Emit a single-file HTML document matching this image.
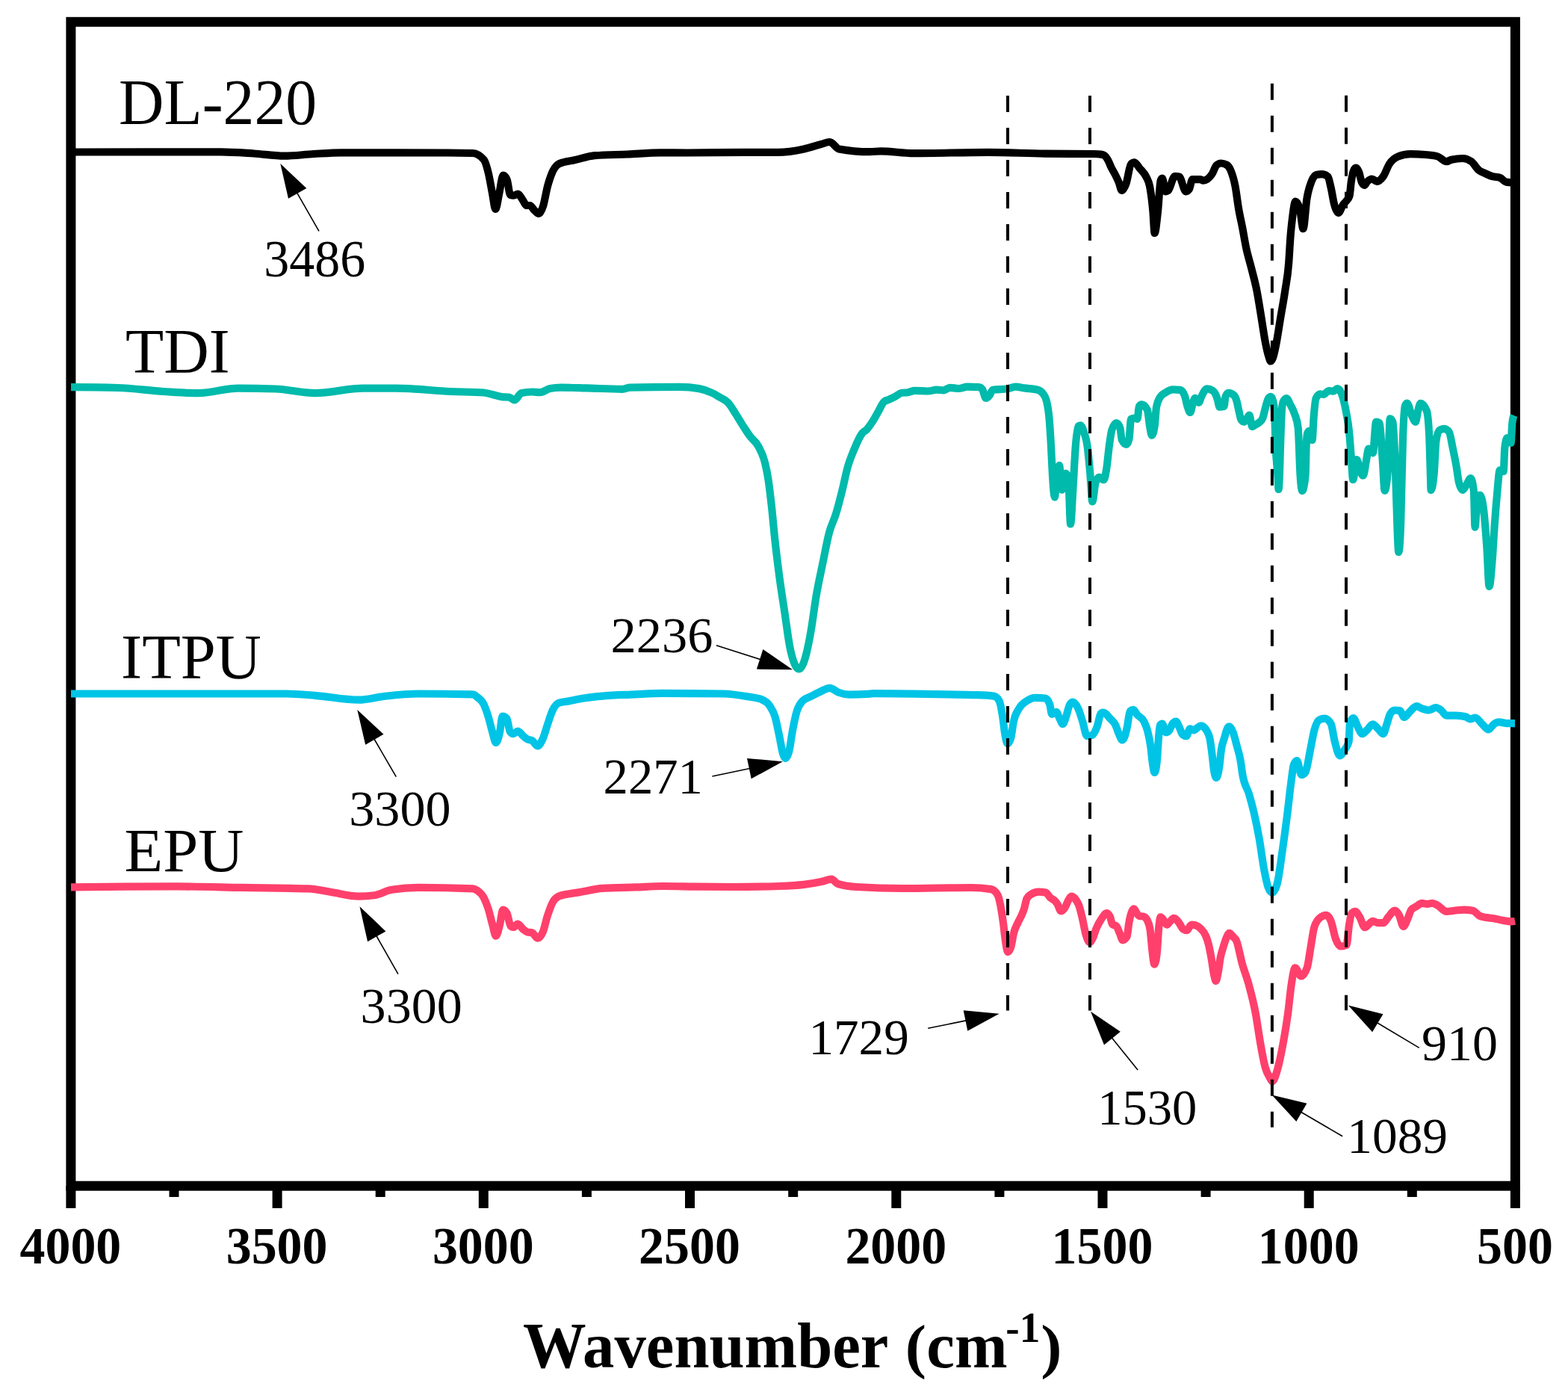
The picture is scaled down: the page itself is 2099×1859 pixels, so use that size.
<!DOCTYPE html><html><head><meta charset="utf-8"><title>FTIR spectra</title><style>html,body{margin:0;padding:0;background:#fff;overflow:hidden}svg{display:block}text{font-family:"Liberation Serif","Times New Roman",serif;fill:#000}</style></head><body>
<svg width="2099" height="1859" viewBox="0 0 2099 1859">
<rect width="2099" height="1859" fill="#fff"/>
<rect x="94.9" y="29.3" width="1933.5" height="1557.9" fill="none" stroke="#000" stroke-width="13"/>
<line x1="94.9" y1="1587.2" x2="94.9" y2="1617" stroke="#000" stroke-width="13"/>
<line x1="371.1" y1="1587.2" x2="371.1" y2="1617" stroke="#000" stroke-width="13"/>
<line x1="647.3" y1="1587.2" x2="647.3" y2="1617" stroke="#000" stroke-width="13"/>
<line x1="923.5" y1="1587.2" x2="923.5" y2="1617" stroke="#000" stroke-width="13"/>
<line x1="1199.8" y1="1587.2" x2="1199.8" y2="1617" stroke="#000" stroke-width="13"/>
<line x1="1476.0" y1="1587.2" x2="1476.0" y2="1617" stroke="#000" stroke-width="13"/>
<line x1="1752.2" y1="1587.2" x2="1752.2" y2="1617" stroke="#000" stroke-width="13"/>
<line x1="2028.4" y1="1587.2" x2="2028.4" y2="1617" stroke="#000" stroke-width="13"/>
<line x1="233.0" y1="1587.2" x2="233.0" y2="1602" stroke="#000" stroke-width="13"/>
<line x1="509.2" y1="1587.2" x2="509.2" y2="1602" stroke="#000" stroke-width="13"/>
<line x1="785.4" y1="1587.2" x2="785.4" y2="1602" stroke="#000" stroke-width="13"/>
<line x1="1061.7" y1="1587.2" x2="1061.7" y2="1602" stroke="#000" stroke-width="13"/>
<line x1="1337.9" y1="1587.2" x2="1337.9" y2="1602" stroke="#000" stroke-width="13"/>
<line x1="1614.1" y1="1587.2" x2="1614.1" y2="1602" stroke="#000" stroke-width="13"/>
<line x1="1890.3" y1="1587.2" x2="1890.3" y2="1602" stroke="#000" stroke-width="13"/>
<text transform="translate(94.4,1690.8) scale(1,1.03)" font-size="67.9" font-weight="bold" text-anchor="middle">4000</text>
<text transform="translate(370.6,1690.8) scale(1,1.03)" font-size="67.9" font-weight="bold" text-anchor="middle">3500</text>
<text transform="translate(646.8,1690.8) scale(1,1.03)" font-size="67.9" font-weight="bold" text-anchor="middle">3000</text>
<text transform="translate(923.0,1690.8) scale(1,1.03)" font-size="67.9" font-weight="bold" text-anchor="middle">2500</text>
<text transform="translate(1199.3,1690.8) scale(1,1.03)" font-size="67.9" font-weight="bold" text-anchor="middle">2000</text>
<text transform="translate(1475.5,1690.8) scale(1,1.03)" font-size="67.9" font-weight="bold" text-anchor="middle">1500</text>
<text transform="translate(1751.7,1690.8) scale(1,1.03)" font-size="67.9" font-weight="bold" text-anchor="middle">1000</text>
<text transform="translate(2027.9,1690.8) scale(1,1.03)" font-size="67.9" font-weight="bold" text-anchor="middle">500</text>
<text transform="translate(700.1,1830.3) scale(1,1.03)" font-size="84.7" font-weight="bold" text-anchor="start">Wavenumber</text>
<text transform="translate(1211.8,1829.3) scale(1,0.96)" font-size="84.7" font-weight="bold" text-anchor="start">(</text>
<text transform="translate(1240.3,1830.3) scale(1,1.03)" font-size="84.7" font-weight="bold" text-anchor="start">cm</text>
<text transform="translate(1346.2,1795.5) scale(1,1.02)" font-size="55.4" font-weight="bold" text-anchor="start">-1</text>
<text transform="translate(1393.2,1829.3) scale(1,0.96)" font-size="84.7" font-weight="bold" text-anchor="start">)</text>
<path d="M95.0,203.5 C97.3,203.5 99.7,203.5 102.0,203.5 C166.5,203.5 231.0,203.4 295.5,203.4 C310.3,203.4 325.2,204.6 340.0,205.5 C353.5,206.4 367.1,208.7 380.6,208.7 C393.7,208.7 406.9,206.7 420.0,206.0 C432.3,205.3 444.7,204.3 457.0,204.3 C504.7,204.3 552.3,204.4 600.0,204.5 C611.0,204.5 622.0,204.7 633.0,205.0 C638.0,205.2 642.9,208.0 647.9,214.0 C649.9,216.4 651.8,223.4 653.8,231.6 C655.5,238.7 657.2,249.4 658.9,258.0 C660.4,265.5 661.8,280.0 663.3,280.0 C665.0,280.0 666.7,265.5 668.4,258.0 C670.1,250.4 671.9,234.6 673.6,234.6 C675.3,234.6 677.0,236.6 678.7,240.5 C680.2,243.9 681.6,260.5 683.1,261.0 C684.6,261.5 686.0,261.7 687.5,261.7 C689.5,261.7 691.4,259.5 693.4,259.5 C695.4,259.5 697.3,264.3 699.3,266.9 C701.2,269.5 703.2,275.0 705.1,275.0 C706.6,275.0 708.0,275.0 709.5,275.0 C711.5,275.0 713.4,279.7 715.4,281.5 C717.4,283.3 719.3,286.0 721.3,286.0 C723.2,286.0 725.2,281.7 727.1,275.7 C729.1,269.6 731.0,256.7 733.0,249.3 C735.0,242.0 736.9,236.2 738.9,231.6 C741.3,225.9 743.8,222.6 746.2,220.6 C749.1,218.2 752.1,217.9 755.0,217.0 C758.9,215.8 762.9,215.6 766.8,214.8 C776.6,212.9 786.3,209.0 796.1,208.2 C810.7,207.1 825.4,207.1 840.0,206.5 C854.7,205.8 869.5,204.3 884.2,204.3 C896.1,204.3 908.1,204.5 920.0,204.5 C945.6,204.5 971.3,203.8 996.9,203.8 C1011.6,203.8 1026.2,203.8 1040.9,203.8 C1052.6,203.8 1064.4,201.9 1076.1,199.4 C1083.9,197.7 1091.8,195.0 1099.6,192.9 C1103.3,191.9 1107.1,190.0 1110.8,190.0 C1114.9,190.0 1119.0,198.6 1123.1,199.4 C1136.8,201.9 1150.5,203.2 1164.2,203.2 C1169.1,203.2 1174.0,202.3 1178.9,202.3 C1193.6,202.3 1208.2,205.2 1222.9,205.2 C1256.2,205.2 1289.4,203.8 1322.7,203.8 C1348.1,203.8 1373.6,205.3 1399.0,205.6 C1421.0,205.9 1443.0,205.7 1465.0,206.0 C1468.0,206.0 1471.0,206.2 1474.0,206.6 C1475.7,206.8 1477.3,207.2 1479.0,208.5 C1480.3,209.5 1481.7,211.7 1483.0,214.0 C1484.7,216.9 1486.3,221.7 1488.0,225.0 C1489.7,228.3 1491.3,230.7 1493.0,234.0 C1494.6,237.2 1496.2,240.4 1497.8,244.4 C1499.1,247.6 1500.3,254.9 1501.6,254.9 C1503.5,254.9 1505.5,251.2 1507.4,246.0 C1509.6,240.1 1511.8,221.8 1514.0,219.6 C1515.5,218.1 1516.9,217.4 1518.4,217.4 C1520.9,217.4 1523.3,222.5 1525.8,225.5 C1528.7,229.0 1531.7,230.7 1534.6,237.2 C1536.1,240.5 1537.5,241.4 1539.0,249.0 C1540.5,256.6 1541.9,265.9 1543.4,282.7 C1544.1,291.1 1544.9,312.0 1545.6,312.0 C1547.1,312.0 1548.5,296.0 1550.0,282.7 C1551.2,271.5 1552.5,244.9 1553.7,241.6 C1554.4,239.7 1555.2,238.7 1555.9,238.7 C1557.4,238.7 1558.8,256.3 1560.3,256.3 C1561.5,256.3 1562.7,255.8 1563.9,254.9 C1566.8,252.6 1569.8,235.8 1572.7,235.8 C1574.7,235.8 1576.6,236.0 1578.6,236.5 C1581.5,237.2 1584.5,256.3 1587.4,256.3 C1588.9,256.3 1590.3,255.3 1591.8,253.4 C1593.3,251.5 1594.7,240.2 1596.2,240.2 C1599.6,240.2 1603.1,240.2 1606.5,240.2 C1608.0,240.2 1609.4,241.6 1610.9,241.6 C1614.8,241.6 1618.7,238.7 1622.6,232.8 C1624.6,229.8 1626.5,222.8 1628.5,221.1 C1630.5,219.4 1632.4,218.5 1634.4,218.5 C1636.8,218.5 1639.3,219.1 1641.7,220.4 C1643.7,221.4 1645.6,223.6 1647.6,228.4 C1649.6,233.2 1651.5,238.7 1653.5,249.0 C1655.1,257.2 1656.6,270.9 1658.2,280.0 C1659.8,289.5 1661.5,295.8 1663.1,304.3 C1664.7,312.8 1666.4,323.1 1668.0,331.0 C1670.4,342.6 1672.8,349.3 1675.2,359.0 C1677.6,368.8 1680.1,376.9 1682.5,389.4 C1684.5,399.9 1686.6,413.4 1688.6,425.8 C1690.2,435.8 1691.9,447.6 1693.5,456.2 C1695.1,464.6 1696.7,471.9 1698.3,476.9 C1699.2,479.7 1700.1,483.5 1701.0,483.5 C1702.0,483.5 1703.0,481.6 1704.0,479.0 C1705.3,475.5 1706.7,468.8 1708.0,462.3 C1710.0,452.4 1712.1,437.9 1714.1,425.8 C1716.1,413.6 1718.2,403.2 1720.2,389.4 C1721.8,378.3 1723.5,373.5 1725.1,352.9 C1725.9,342.8 1726.7,326.5 1727.5,316.5 C1728.3,306.1 1729.2,298.8 1730.0,292.0 C1731.4,280.6 1732.8,269.5 1734.2,269.5 C1736.1,269.5 1738.1,272.9 1740.0,279.8 C1741.5,285.1 1743.0,306.2 1744.5,306.2 C1746.1,306.2 1747.8,276.3 1749.4,266.1 C1751.5,253.0 1753.6,248.0 1755.7,242.6 C1757.8,237.3 1759.8,234.4 1761.9,234.0 C1764.5,233.5 1767.1,233.2 1769.7,233.2 C1772.3,233.2 1775.0,234.3 1777.6,236.4 C1778.9,237.5 1780.2,245.0 1781.5,250.5 C1783.1,257.1 1784.6,268.3 1786.2,273.9 C1788.0,280.5 1789.9,284.9 1791.7,284.9 C1793.8,284.9 1795.8,276.8 1797.9,273.9 C1799.5,271.7 1801.0,270.7 1802.6,268.5 C1803.9,266.7 1805.2,266.4 1806.5,262.2 C1807.3,259.6 1808.1,247.9 1808.9,242.6 C1809.9,235.8 1811.0,231.1 1812.0,228.5 C1813.0,225.9 1814.1,224.6 1815.1,224.6 C1816.4,224.6 1817.8,226.8 1819.1,230.1 C1820.4,233.4 1821.7,241.6 1823.0,244.2 C1824.2,246.6 1825.4,247.8 1826.6,247.8 C1827.7,247.8 1828.9,244.6 1830.0,243.4 C1832.2,241.1 1834.4,239.5 1836.6,239.5 C1838.8,239.5 1841.0,242.8 1843.2,242.8 C1846.0,242.8 1848.8,240.1 1851.6,236.2 C1854.4,232.3 1857.1,223.7 1859.9,219.5 C1863.8,213.6 1867.6,211.0 1871.5,209.5 C1877.0,207.3 1882.6,206.2 1888.1,206.2 C1894.8,206.2 1901.4,206.5 1908.1,207.0 C1913.6,207.4 1919.2,207.8 1924.7,209.5 C1928.6,210.7 1932.5,216.2 1936.4,216.2 C1938.6,216.2 1940.8,214.2 1943.0,213.7 C1948.0,212.6 1953.0,212.0 1958.0,212.0 C1961.9,212.0 1965.7,213.4 1969.6,216.2 C1972.9,218.6 1976.3,225.1 1979.6,227.8 C1982.4,230.0 1985.1,230.7 1987.9,232.0 C1991.2,233.6 1994.6,235.2 1997.9,236.2 C2001.2,237.2 2004.6,236.7 2007.9,237.8 C2010.7,238.7 2013.4,243.2 2016.2,243.6 C2020.1,244.2 2024.1,244.3 2028.0,244.5" fill="none" stroke="#000000" stroke-width="10.2" stroke-linejoin="round" stroke-linecap="butt"/>
<path d="M95.0,518.2 C115.8,518.3 136.7,518.5 157.5,519.0 C178.1,519.5 198.6,522.8 219.2,524.0 C234.8,524.9 250.5,526.1 266.1,526.1 C283.7,526.1 301.4,519.6 319.0,519.6 C335.6,519.6 352.3,519.9 368.9,520.5 C386.5,521.1 404.1,526.1 421.7,526.1 C443.2,526.1 464.8,519.6 486.3,519.6 C501.0,519.6 515.6,519.6 530.3,519.6 C554.8,519.6 579.2,522.9 603.7,524.0 C618.4,524.6 633.0,524.5 647.7,525.5 C651.8,525.8 655.9,527.2 660.0,528.2 C663.9,529.1 667.8,530.6 671.7,531.1 C675.1,531.6 678.6,531.3 682.0,531.8 C684.2,532.1 686.4,535.5 688.6,535.5 C691.8,535.5 695.0,526.7 698.2,526.0 C703.1,525.0 707.9,524.5 712.8,524.5 C716.2,524.5 719.7,525.2 723.1,525.2 C727.5,525.2 731.9,521.0 736.3,520.1 C741.2,519.1 746.1,518.6 751.0,518.6 C762.3,518.6 773.5,519.1 784.8,519.4 C800.9,519.8 817.1,520.8 833.2,520.8 C836.6,520.8 840.1,518.7 843.5,518.6 C865.5,518.1 887.5,517.9 909.5,517.9 C918.3,517.9 927.1,518.6 935.9,520.1 C941.8,521.1 947.7,523.1 953.6,526.0 C956.4,527.4 959.3,529.2 962.1,530.9 C966.5,533.6 971.0,534.6 975.4,539.8 C978.3,543.2 981.3,548.5 984.2,553.0 C987.9,558.7 991.5,565.0 995.2,570.7 C998.2,575.3 1001.1,580.0 1004.1,584.0 C1007.8,589.0 1011.4,590.2 1015.1,597.2 C1018.1,602.9 1021.0,606.9 1024.0,619.3 C1025.5,625.4 1026.9,631.8 1028.4,641.4 C1029.9,651.0 1031.3,663.5 1032.8,676.8 C1034.3,690.1 1035.7,707.3 1037.2,721.0 C1039.4,741.8 1041.7,759.5 1043.9,776.2 C1046.1,792.6 1048.3,805.7 1050.5,820.4 C1052.7,835.1 1054.9,853.2 1057.1,864.6 C1059.3,876.2 1061.6,883.8 1063.8,888.9 C1065.7,893.3 1067.6,895.5 1069.5,895.5 C1071.0,895.5 1072.5,893.9 1074.0,891.0 C1075.7,887.7 1077.5,882.3 1079.2,875.7 C1081.4,867.2 1083.7,855.5 1085.9,842.5 C1088.1,829.7 1090.3,811.5 1092.5,798.3 C1095.4,780.8 1098.4,768.4 1101.3,754.1 C1104.3,739.7 1107.2,723.3 1110.2,712.2 C1113.1,701.2 1116.1,697.4 1119.0,687.8 C1121.9,678.2 1124.9,666.6 1127.8,654.7 C1130.0,645.6 1132.3,634.1 1134.5,626.0 C1137.4,615.4 1140.4,608.8 1143.3,601.7 C1147.0,592.7 1150.7,584.0 1154.4,579.6 C1156.3,577.4 1158.1,577.0 1160.0,575.1 C1162.3,572.7 1164.7,569.3 1167.0,565.8 C1169.8,561.7 1172.5,556.4 1175.3,551.7 C1178.0,547.0 1180.8,539.9 1183.5,537.6 C1185.8,535.6 1188.2,535.7 1190.5,534.6 C1193.2,533.3 1196.0,532.0 1198.7,530.5 C1201.5,529.0 1204.2,526.2 1207.0,525.8 C1209.7,525.4 1212.5,525.6 1215.2,525.2 C1218.3,524.7 1221.5,522.9 1224.6,522.9 C1230.5,522.9 1236.3,523.5 1242.2,523.5 C1246.1,523.5 1250.0,521.7 1253.9,521.7 C1257.0,521.7 1260.2,522.3 1263.3,522.3 C1266.0,522.3 1268.8,518.8 1271.5,518.8 C1275.4,518.8 1279.4,520.0 1283.3,520.0 C1287.2,520.0 1291.1,517.6 1295.0,517.6 C1300.1,517.6 1305.2,517.8 1310.3,518.2 C1311.9,518.3 1313.4,519.2 1315.0,521.1 C1316.6,523.0 1318.1,532.9 1319.7,532.9 C1321.3,532.9 1322.8,531.3 1324.4,529.4 C1326.0,527.5 1327.5,521.9 1329.1,521.7 C1335.4,520.9 1341.6,521.3 1347.9,520.5 C1351.8,520.0 1355.7,517.6 1359.6,517.6 C1363.5,517.6 1367.4,518.8 1371.3,519.4 C1377.2,520.3 1383.1,520.2 1389.0,521.7 C1391.4,522.3 1393.7,523.4 1396.1,526.7 C1397.7,529.0 1399.3,530.0 1400.9,536.5 C1402.1,541.5 1403.4,546.3 1404.6,560.8 C1405.4,570.2 1406.2,582.7 1407.0,597.2 C1407.6,608.1 1408.2,623.8 1408.8,633.7 C1409.8,650.8 1410.9,665.3 1411.9,665.3 C1412.7,665.3 1413.5,646.4 1414.3,639.8 C1415.5,629.6 1416.8,622.8 1418.0,622.8 C1419.2,622.8 1420.4,655.6 1421.6,655.6 C1423.2,655.6 1424.9,633.7 1426.5,633.7 C1427.7,633.7 1428.9,635.7 1430.1,639.8 C1431.1,643.2 1432.1,701.5 1433.1,701.5 C1434.1,701.5 1435.2,673.9 1436.2,658.0 C1437.4,639.6 1438.6,611.7 1439.8,597.2 C1441.0,582.3 1442.3,571.5 1443.5,570.5 C1444.5,569.7 1445.5,569.3 1446.5,569.3 C1447.9,569.3 1449.4,573.6 1450.8,577.8 C1452.4,582.5 1454.0,585.5 1455.6,597.2 C1456.8,606.2 1458.1,619.7 1459.3,633.7 C1460.3,645.1 1461.3,671.4 1462.3,671.4 C1463.7,671.4 1465.2,650.1 1466.6,645.8 C1468.2,641.0 1469.8,638.6 1471.4,638.6 C1473.4,638.6 1475.5,642.2 1477.5,642.2 C1478.7,642.2 1480.0,635.3 1481.2,627.6 C1482.4,620.1 1483.6,605.9 1484.8,597.2 C1486.0,588.5 1487.2,579.0 1488.4,575.4 C1490.4,569.3 1492.5,566.2 1494.5,566.2 C1496.1,566.2 1497.8,568.4 1499.4,572.9 C1500.2,575.1 1501.0,587.1 1501.8,588.7 C1503.8,592.8 1505.9,594.8 1507.9,594.8 C1509.1,594.8 1510.3,592.4 1511.5,587.5 C1512.3,584.1 1513.2,561.2 1514.0,560.8 C1515.6,560.0 1517.2,559.6 1518.8,559.6 C1520.0,559.6 1521.3,560.8 1522.5,560.8 C1523.3,560.8 1524.1,544.9 1524.9,543.8 C1526.1,542.1 1527.4,541.3 1528.6,541.3 C1531.0,541.3 1533.4,543.7 1535.8,548.6 C1537.0,551.1 1538.3,566.7 1539.5,572.9 C1540.3,576.9 1541.1,582.6 1541.9,582.6 C1543.1,582.6 1544.4,578.6 1545.6,570.5 C1546.4,565.3 1547.2,549.4 1548.0,545.0 C1549.6,536.1 1551.3,534.3 1552.9,531.6 C1555.3,527.5 1557.8,527.1 1560.2,525.5 C1563.4,523.4 1566.7,521.4 1569.9,521.4 C1573.2,521.4 1576.6,521.6 1579.9,521.9 C1581.9,522.1 1583.9,524.5 1585.9,529.8 C1587.2,533.2 1588.5,540.9 1589.8,544.7 C1591.0,548.1 1592.1,552.0 1593.3,552.0 C1594.5,552.0 1595.6,543.1 1596.8,539.8 C1597.8,536.9 1598.8,532.8 1599.8,532.8 C1601.4,532.8 1603.1,538.8 1604.7,538.8 C1606.0,538.8 1607.4,532.4 1608.7,529.8 C1611.0,525.3 1613.4,520.4 1615.7,520.4 C1618.3,520.4 1621.0,521.2 1623.6,522.9 C1625.6,524.2 1627.6,527.7 1629.6,533.8 C1630.6,536.8 1631.6,544.7 1632.6,544.7 C1634.6,544.7 1636.6,544.4 1638.6,543.8 C1639.2,543.6 1639.9,532.4 1640.5,530.8 C1641.8,527.5 1643.2,525.9 1644.5,525.9 C1646.8,525.9 1649.2,526.9 1651.5,528.8 C1652.8,529.9 1654.2,532.2 1655.5,536.8 C1656.5,540.1 1657.4,545.6 1658.4,549.7 C1659.4,553.9 1660.4,560.2 1661.4,561.7 C1662.7,563.6 1664.1,564.6 1665.4,564.6 C1666.7,564.6 1668.1,561.4 1669.4,559.7 C1670.4,558.4 1671.4,555.7 1672.4,555.7 C1673.7,555.7 1675.0,571.0 1676.3,571.0 C1677.6,571.0 1679.0,569.4 1680.3,568.6 C1682.0,567.6 1683.6,567.1 1685.3,565.6 C1687.0,564.1 1688.6,563.6 1690.3,559.7 C1691.6,556.6 1692.9,549.1 1694.2,544.7 C1695.5,540.1 1696.9,534.6 1698.2,532.8 C1699.2,531.5 1700.2,530.8 1701.2,530.8 C1702.3,530.8 1703.4,533.2 1704.5,538.0 C1705.0,540.2 1705.5,542.0 1706.0,550.0 C1706.6,559.1 1707.1,584.8 1707.7,598.0 C1708.7,622.0 1709.8,623.6 1710.8,642.0 C1711.0,646.1 1711.3,655.0 1711.5,655.0 C1711.9,655.0 1712.2,649.5 1712.6,642.0 C1713.1,632.5 1713.5,611.3 1714.0,598.0 C1714.7,577.0 1715.5,551.5 1716.2,545.0 C1716.8,539.7 1717.4,538.2 1718.0,537.0 C1719.4,534.3 1720.7,533.0 1722.1,533.0 C1723.7,533.0 1725.4,537.9 1727.0,541.0 C1729.0,544.8 1731.1,547.7 1733.1,554.2 C1734.6,559.0 1736.1,560.1 1737.6,571.9 C1738.1,575.6 1738.5,587.0 1739.0,598.0 C1739.3,605.8 1739.7,617.6 1740.0,625.0 C1740.5,636.2 1741.0,643.0 1741.5,648.0 C1742.1,654.0 1742.7,657.0 1743.3,657.0 C1744.2,657.0 1745.1,653.8 1746.0,648.0 C1746.6,644.4 1747.1,643.3 1747.7,633.8 C1748.0,628.8 1748.3,606.3 1748.6,598.4 C1749.1,586.1 1749.5,581.1 1750.0,580.0 C1751.0,577.7 1752.0,576.5 1753.0,576.5 C1754.2,576.5 1755.4,589.0 1756.6,589.0 C1757.3,589.0 1758.0,566.1 1758.7,557.5 C1759.7,545.7 1760.6,535.0 1761.6,533.1 C1763.5,529.2 1765.5,527.3 1767.4,527.3 C1768.8,527.3 1770.3,528.0 1771.7,528.0 C1774.1,528.0 1776.5,523.0 1778.9,523.0 C1780.8,523.0 1782.7,523.7 1784.6,523.7 C1786.5,523.7 1788.5,520.1 1790.4,520.1 C1792.3,520.1 1794.2,522.5 1796.1,527.3 C1798.0,532.1 1799.9,540.0 1801.8,550.3 C1803.3,558.3 1804.7,563.8 1806.2,579.0 C1807.1,588.7 1808.1,603.3 1809.0,615.0 C1809.7,624.2 1810.5,642.0 1811.2,642.0 C1812.9,642.0 1814.5,615.0 1816.2,615.0 C1817.6,615.0 1819.1,625.7 1820.5,629.3 C1821.9,632.9 1823.4,636.5 1824.8,636.5 C1826.3,636.5 1827.7,622.4 1829.2,615.0 C1830.1,610.3 1831.1,600.6 1832.0,600.6 C1833.9,600.6 1835.9,606.3 1837.8,606.3 C1839.2,606.3 1840.7,564.7 1842.1,564.7 C1843.5,564.7 1845.0,565.2 1846.4,566.1 C1847.8,567.0 1849.3,596.2 1850.7,615.0 C1851.7,627.7 1852.6,656.6 1853.6,656.6 C1855.0,656.6 1856.5,647.5 1857.9,629.3 C1858.9,617.0 1859.8,560.4 1860.8,560.4 C1862.0,560.4 1863.2,561.8 1864.4,564.7 C1865.6,567.6 1866.8,599.1 1868.0,629.3 C1868.9,652.8 1869.9,696.1 1870.8,715.6 C1871.3,726.1 1871.8,739.0 1872.3,739.0 C1873.2,739.0 1874.2,725.8 1875.1,701.2 C1876.1,675.7 1877.0,612.6 1878.0,586.2 C1879.0,559.9 1879.9,545.8 1880.9,543.1 C1881.8,540.7 1882.6,539.5 1883.5,539.5 C1885.7,539.5 1887.8,551.9 1890.0,556.4 C1891.6,559.8 1893.3,564.7 1894.9,564.7 C1896.0,564.7 1897.1,553.8 1898.2,549.7 C1899.3,545.5 1900.5,539.8 1901.6,539.8 C1904.3,539.8 1907.1,543.1 1909.8,549.7 C1910.9,552.4 1912.1,560.8 1913.2,582.9 C1913.7,593.3 1914.3,616.7 1914.8,632.6 C1915.1,640.5 1915.3,655.9 1915.6,655.9 C1917.0,655.9 1918.4,648.1 1919.8,632.6 C1920.6,623.4 1921.5,597.3 1922.3,591.2 C1923.7,581.3 1925.0,577.3 1926.4,576.3 C1928.6,574.6 1930.9,573.8 1933.1,573.8 C1935.3,573.8 1937.5,575.2 1939.7,577.9 C1941.4,580.0 1943.0,591.7 1944.7,599.5 C1946.3,607.2 1948.0,614.9 1949.6,624.4 C1950.7,631.0 1951.9,641.3 1953.0,645.9 C1954.6,652.6 1956.3,655.9 1957.9,655.9 C1959.6,655.9 1961.2,651.6 1962.9,649.2 C1964.8,646.4 1966.8,640.1 1968.7,640.1 C1970.1,640.1 1971.5,645.9 1972.9,657.5 C1973.4,661.9 1974.0,705.6 1974.5,705.6 C1975.6,705.6 1976.7,668.0 1977.8,665.8 C1978.9,663.6 1980.0,662.5 1981.1,662.5 C1982.8,662.5 1984.4,669.1 1986.1,682.4 C1987.5,693.5 1988.9,712.2 1990.3,732.1 C1991.4,747.7 1992.5,785.0 1993.6,785.0 C1995.0,785.0 1996.3,765.5 1997.7,748.7 C1998.8,735.2 1999.9,714.0 2001.0,699.0 C2002.1,683.5 2003.3,669.2 2004.4,657.5 C2005.5,646.1 2006.6,629.3 2007.7,629.3 C2009.4,629.3 2011.0,631.0 2012.7,631.0 C2013.2,631.0 2013.8,603.8 2014.3,599.5 C2015.4,590.6 2016.5,586.2 2017.6,586.2 C2019.3,586.2 2020.9,592.9 2022.6,592.9 C2023.2,592.9 2023.7,571.6 2024.3,566.3 C2025.0,559.4 2025.8,557.7 2026.5,556.0" fill="none" stroke="#00BAAB" stroke-width="10.2" stroke-linejoin="round" stroke-linecap="butt"/>
<path d="M95.0,928.5 C142.3,928.5 189.5,928.5 236.8,928.5 C285.7,928.5 334.6,928.5 383.5,928.5 C396.2,928.5 409.0,929.8 421.7,930.8 C441.3,932.3 460.8,936.7 480.4,936.7 C492.1,936.7 503.9,933.0 515.6,931.7 C530.3,930.1 545.0,928.5 559.7,928.5 C584.1,928.5 608.6,928.8 633.0,929.4 C634.9,929.4 636.9,931.4 638.8,933.0 C641.7,935.4 644.7,936.5 647.6,942.6 C649.6,946.7 651.5,952.4 653.5,958.7 C655.5,965.1 657.4,974.2 659.4,980.7 C660.9,985.6 662.3,993.9 663.8,993.9 C665.5,993.9 667.2,988.4 668.9,980.7 C670.1,975.1 671.4,958.7 672.6,958.7 C674.5,958.7 676.5,959.7 678.4,961.6 C679.9,963.1 681.3,977.4 682.8,979.3 C684.3,981.2 685.7,982.2 687.2,982.2 C689.2,982.2 691.1,978.5 693.1,978.5 C695.6,978.5 698.0,983.1 700.5,985.1 C702.4,986.7 704.4,988.5 706.3,989.5 C708.3,990.5 710.2,990.0 712.2,991.0 C714.6,992.2 717.1,998.3 719.5,998.3 C722.0,998.3 724.4,993.8 726.9,988.1 C728.8,983.6 730.8,976.2 732.7,970.5 C735.2,963.3 737.6,954.8 740.1,949.9 C742.5,945.1 745.0,942.1 747.4,941.1 C752.3,939.2 757.2,939.2 762.1,938.2 C767.0,937.2 771.9,936.1 776.8,935.2 C786.6,933.5 796.3,932.5 806.1,931.6 C820.8,930.2 835.5,930.1 850.2,929.4 C862.4,928.8 874.7,927.9 886.9,927.9 C914.1,927.9 941.2,928.1 968.4,928.5 C979.7,928.7 990.9,930.6 1002.2,932.6 C1008.1,933.6 1013.9,933.8 1019.8,936.2 C1023.2,937.6 1026.7,939.1 1030.1,944.3 C1032.5,948.0 1035.0,950.8 1037.4,959.0 C1039.4,965.6 1041.3,976.0 1043.3,985.4 C1044.8,992.4 1046.2,1002.5 1047.7,1007.4 C1048.9,1011.6 1050.2,1014.8 1051.4,1014.8 C1053.1,1014.8 1054.8,1011.4 1056.5,1004.5 C1058.0,998.6 1059.4,986.0 1060.9,978.1 C1062.9,967.6 1064.8,958.1 1066.8,951.6 C1069.2,943.6 1071.7,941.1 1074.1,938.4 C1078.0,934.0 1082.0,933.9 1085.9,931.8 C1090.3,929.5 1094.7,927.1 1099.1,925.2 C1103.0,923.5 1106.9,920.8 1110.8,920.8 C1114.7,920.8 1118.7,925.3 1122.6,926.7 C1127.5,928.5 1132.3,929.6 1137.2,929.6 C1145.0,929.6 1152.9,929.4 1160.7,928.9 C1163.6,928.7 1166.6,928.2 1169.5,928.2 C1202.6,928.2 1235.6,928.8 1268.7,929.4 C1280.9,929.6 1293.2,929.6 1305.4,930.1 C1313.7,930.4 1322.1,930.6 1330.4,931.6 C1332.8,931.9 1335.3,933.8 1337.7,938.2 C1339.2,940.9 1340.6,949.3 1342.1,958.7 C1343.1,964.9 1344.0,974.9 1345.0,980.7 C1346.2,988.1 1347.5,995.4 1348.7,995.4 C1350.2,995.4 1351.6,993.0 1353.1,988.1 C1354.3,984.0 1355.6,971.9 1356.8,966.0 C1359.2,954.4 1361.7,952.8 1364.1,948.4 C1367.5,942.1 1371.0,940.6 1374.4,938.2 C1378.3,935.5 1382.2,933.8 1386.1,933.8 C1390.5,933.8 1394.9,934.0 1399.3,934.5 C1401.3,934.7 1403.2,937.2 1405.2,942.6 C1406.2,945.3 1407.1,955.8 1408.1,955.8 C1410.1,955.8 1412.0,952.8 1414.0,952.8 C1415.5,952.8 1416.9,958.9 1418.4,961.6 C1419.9,964.3 1421.3,969.0 1422.8,969.0 C1424.3,969.0 1425.7,962.9 1427.2,958.7 C1428.7,954.5 1430.1,946.9 1431.6,944.0 C1433.1,941.1 1434.5,939.6 1436.0,939.6 C1438.5,939.6 1440.9,943.0 1443.4,948.4 C1445.4,952.7 1447.3,959.8 1449.3,966.0 C1451.2,972.1 1453.2,985.1 1455.1,985.1 C1457.6,985.1 1460.0,984.6 1462.5,983.7 C1464.4,983.0 1466.4,978.2 1468.3,973.4 C1470.3,968.5 1472.2,955.2 1474.2,954.3 C1475.2,953.8 1476.1,953.6 1477.1,953.6 C1480.1,953.6 1483.0,958.4 1486.0,961.6 C1488.4,964.2 1490.9,965.3 1493.3,970.5 C1494.8,973.6 1496.2,979.0 1497.7,982.2 C1499.3,985.7 1500.9,990.5 1502.5,990.5 C1504.6,990.5 1506.7,982.7 1508.8,973.4 C1510.1,967.6 1511.4,953.1 1512.7,951.9 C1514.2,950.6 1515.6,949.9 1517.1,949.9 C1518.9,949.9 1520.7,954.7 1522.5,956.8 C1525.4,960.2 1528.4,959.7 1531.3,965.6 C1532.9,968.9 1534.6,971.9 1536.2,978.3 C1537.5,983.4 1538.8,988.7 1540.1,997.8 C1541.1,1004.5 1542.0,1016.1 1543.0,1022.3 C1543.8,1027.7 1544.7,1034.0 1545.5,1034.0 C1546.6,1034.0 1547.8,1028.5 1548.9,1017.4 C1549.6,1010.9 1550.2,996.0 1550.9,988.1 C1551.5,980.6 1552.2,971.3 1552.8,970.5 C1553.8,969.2 1554.8,968.5 1555.8,968.5 C1557.4,968.5 1559.1,980.2 1560.7,980.2 C1562.0,980.2 1563.3,979.6 1564.6,978.3 C1566.6,976.4 1568.5,969.4 1570.5,967.5 C1571.8,966.2 1573.1,965.6 1574.4,965.6 C1575.7,965.6 1577.0,969.9 1578.3,972.4 C1579.9,975.6 1581.6,981.9 1583.2,983.2 C1584.8,984.5 1586.5,985.1 1588.1,985.1 C1589.7,985.1 1591.4,975.3 1593.0,975.3 C1594.6,975.3 1596.2,977.3 1597.8,977.3 C1599.8,977.3 1601.7,974.5 1603.7,973.4 C1605.0,972.7 1606.3,971.4 1607.6,971.4 C1610.2,971.4 1612.9,973.7 1615.5,978.3 C1616.8,980.6 1618.1,981.7 1619.4,988.1 C1620.4,992.9 1621.3,1000.3 1622.3,1007.6 C1623.3,1014.9 1624.2,1026.6 1625.2,1032.1 C1626.2,1037.8 1627.2,1040.9 1628.2,1040.9 C1629.5,1040.9 1630.8,1035.4 1632.1,1027.2 C1633.1,1021.1 1634.0,1008.9 1635.0,1002.7 C1636.3,994.3 1637.6,992.5 1638.9,988.1 C1640.5,982.5 1642.2,975.0 1643.8,973.4 C1644.5,972.7 1645.1,972.4 1645.8,972.4 C1647.4,972.4 1649.1,976.0 1650.7,980.2 C1652.3,984.4 1654.0,991.6 1655.6,997.8 C1657.2,1004.0 1658.9,1008.0 1660.5,1017.4 C1661.5,1022.9 1662.4,1031.4 1663.4,1037.0 C1666.3,1053.6 1669.1,1052.9 1672.0,1062.7 C1674.3,1070.5 1676.5,1078.5 1678.8,1088.4 C1681.1,1098.5 1683.4,1109.7 1685.7,1122.7 C1688.0,1135.5 1690.2,1153.8 1692.5,1165.5 C1694.2,1174.4 1696.0,1183.2 1697.7,1187.8 C1699.4,1192.3 1701.1,1194.6 1702.8,1194.6 C1705.1,1194.6 1707.4,1190.6 1709.7,1182.7 C1712.0,1174.9 1714.2,1155.4 1716.5,1139.8 C1718.8,1124.0 1721.1,1106.8 1723.4,1088.4 C1725.1,1074.8 1726.8,1058.0 1728.5,1045.6 C1729.6,1037.3 1730.8,1026.0 1731.9,1023.3 C1733.3,1019.9 1734.8,1018.2 1736.2,1018.2 C1738.2,1018.2 1740.2,1037.0 1742.2,1037.0 C1743.9,1037.0 1745.7,1035.9 1747.4,1033.6 C1749.7,1030.6 1751.9,1013.6 1754.2,1002.8 C1755.9,994.5 1757.7,983.5 1759.4,977.1 C1761.7,968.8 1763.9,964.5 1766.2,963.4 C1768.5,962.3 1770.8,961.7 1773.1,961.7 C1775.9,961.7 1778.8,964.0 1781.6,968.5 C1783.3,971.3 1785.1,985.9 1786.8,992.5 C1789.1,1001.1 1791.3,1011.3 1793.6,1011.3 C1795.9,1011.3 1798.2,1006.7 1800.5,1002.8 C1802.2,999.9 1803.9,999.4 1805.6,992.5 C1806.1,990.6 1806.5,968.2 1807.0,967.0 C1808.6,963.1 1810.1,961.1 1811.7,961.1 C1813.7,961.1 1815.6,969.3 1817.6,972.8 C1819.6,976.3 1821.5,982.2 1823.5,982.2 C1825.8,982.2 1828.2,978.5 1830.5,976.4 C1832.9,974.2 1835.2,969.3 1837.6,969.3 C1839.9,969.3 1842.3,973.1 1844.6,975.2 C1847.0,977.4 1849.3,982.2 1851.7,982.2 C1853.3,982.2 1854.8,973.8 1856.4,969.3 C1858.0,964.8 1859.5,957.7 1861.1,955.2 C1863.0,952.1 1865.0,950.5 1866.9,950.5 C1869.3,950.5 1871.6,950.7 1874.0,951.1 C1875.9,951.4 1877.9,959.9 1879.8,959.9 C1882.2,959.9 1884.5,955.1 1886.9,952.9 C1890.0,950.0 1893.2,945.2 1896.3,945.2 C1898.6,945.2 1901.0,947.4 1903.3,948.2 C1906.4,949.3 1909.6,950.5 1912.7,950.5 C1915.8,950.5 1919.0,947.0 1922.1,947.0 C1924.5,947.0 1926.8,948.7 1929.2,950.5 C1931.5,952.3 1933.9,957.6 1936.2,957.6 C1940.5,957.6 1944.8,957.6 1949.1,957.6 C1953.4,957.6 1957.7,958.2 1962.0,959.3 C1964.0,959.8 1965.9,962.3 1967.9,962.3 C1970.2,962.3 1972.6,960.5 1974.9,960.5 C1978.0,960.5 1981.2,966.5 1984.3,969.3 C1987.1,971.8 1989.8,976.4 1992.6,976.4 C1994.9,976.4 1997.3,971.0 1999.6,969.3 C2001.9,967.6 2004.3,966.4 2006.6,966.4 C2010.1,966.4 2013.7,968.1 2017.2,968.1 C2020.8,968.1 2024.4,968.1 2028.0,968.1" fill="none" stroke="#00C4E6" stroke-width="10.2" stroke-linejoin="round" stroke-linecap="butt"/>
<path d="M95.0,1187.3 C142.3,1186.8 189.5,1186.4 236.8,1186.4 C266.1,1186.4 295.5,1187.4 324.8,1187.9 C354.2,1188.4 383.5,1188.4 412.9,1189.4 C422.7,1189.7 432.4,1192.3 442.2,1193.8 C454.9,1195.7 467.7,1199.6 480.4,1199.6 C487.3,1199.6 494.1,1199.1 501.0,1198.2 C508.8,1197.1 516.6,1192.1 524.4,1190.8 C536.2,1188.9 547.9,1187.9 559.7,1187.9 C584.1,1187.9 608.6,1188.4 633.0,1189.4 C634.9,1189.5 636.9,1190.5 638.8,1191.8 C641.7,1193.8 644.7,1195.8 647.6,1201.4 C649.6,1205.2 651.5,1209.9 653.5,1216.0 C655.5,1222.1 657.4,1231.2 659.4,1238.1 C660.9,1243.2 662.3,1252.7 663.8,1252.7 C665.5,1252.7 667.2,1244.6 668.9,1238.1 C670.4,1232.5 671.8,1217.5 673.3,1217.5 C675.0,1217.5 676.7,1219.0 678.4,1221.9 C680.1,1224.9 681.9,1238.1 683.6,1239.5 C684.8,1240.5 686.0,1241.0 687.2,1241.0 C689.2,1241.0 691.1,1236.6 693.1,1236.6 C695.6,1236.6 698.0,1241.9 700.5,1243.9 C702.4,1245.4 704.4,1247.1 706.3,1247.6 C708.3,1248.1 710.2,1247.8 712.2,1248.3 C714.6,1248.9 717.1,1255.7 719.5,1255.7 C722.0,1255.7 724.4,1252.8 726.9,1246.9 C728.8,1242.3 730.8,1232.3 732.7,1226.3 C735.2,1218.6 737.6,1211.6 740.1,1207.2 C742.5,1202.9 745.0,1201.1 747.4,1199.9 C752.3,1197.4 757.2,1197.2 762.1,1196.2 C767.0,1195.2 771.9,1194.8 776.8,1194.0 C786.6,1192.5 796.3,1189.6 806.1,1188.9 C820.8,1187.9 835.5,1187.9 850.2,1187.4 C862.4,1187.0 874.7,1186.0 886.9,1186.0 C901.3,1186.0 915.6,1186.5 930.0,1186.7 C947.2,1186.9 964.4,1187.0 981.6,1187.0 C1002.2,1187.0 1022.7,1186.7 1043.3,1186.0 C1054.3,1185.6 1065.2,1185.2 1076.2,1183.9 C1084.4,1182.9 1092.6,1181.6 1100.8,1179.8 C1104.9,1178.9 1109.0,1176.7 1113.1,1176.7 C1115.9,1176.7 1118.6,1182.0 1121.4,1182.9 C1129.6,1185.6 1137.8,1186.5 1146.0,1187.0 C1166.6,1188.3 1187.1,1189.0 1207.7,1189.0 C1238.5,1189.0 1269.3,1188.0 1300.1,1188.0 C1309.0,1188.0 1317.9,1188.7 1326.8,1190.1 C1329.7,1190.6 1332.7,1192.7 1335.6,1197.9 C1336.8,1200.1 1338.1,1205.6 1339.3,1211.8 C1340.5,1218.0 1341.8,1225.9 1343.0,1235.1 C1343.9,1242.0 1344.9,1252.1 1345.8,1258.3 C1346.9,1265.6 1348.0,1274.1 1349.1,1274.1 C1350.5,1274.1 1351.8,1271.9 1353.2,1267.6 C1354.5,1263.6 1355.7,1254.0 1357.0,1249.0 C1358.8,1241.8 1360.7,1239.2 1362.5,1235.1 C1364.1,1231.6 1365.6,1229.4 1367.2,1225.8 C1368.4,1223.0 1369.7,1220.4 1370.9,1216.5 C1372.1,1212.6 1373.4,1204.9 1374.6,1202.5 C1376.5,1198.8 1378.3,1198.2 1380.2,1197.0 C1383.6,1194.8 1387.0,1193.7 1390.4,1193.7 C1393.5,1193.7 1396.6,1194.0 1399.7,1194.6 C1401.9,1195.0 1404.0,1199.8 1406.2,1201.6 C1408.1,1203.2 1409.9,1203.4 1411.8,1205.3 C1413.0,1206.6 1414.3,1208.0 1415.5,1210.0 C1417.1,1212.5 1418.6,1219.3 1420.2,1219.3 C1422.0,1219.3 1423.9,1217.5 1425.7,1214.6 C1427.3,1212.1 1428.8,1207.0 1430.4,1204.4 C1431.6,1202.3 1432.9,1199.7 1434.1,1199.7 C1436.0,1199.7 1437.8,1201.1 1439.7,1203.5 C1441.2,1205.5 1442.8,1207.5 1444.3,1211.8 C1445.9,1216.1 1447.4,1222.9 1449.0,1229.5 C1450.5,1236.0 1452.1,1245.7 1453.6,1250.9 C1455.3,1256.7 1457.0,1261.1 1458.7,1261.1 C1460.1,1261.1 1461.5,1258.3 1462.9,1255.5 C1464.5,1252.4 1466.0,1246.2 1467.6,1242.5 C1469.8,1237.3 1471.9,1233.7 1474.1,1230.4 C1476.6,1226.7 1479.0,1222.1 1481.5,1222.1 C1483.1,1222.1 1484.6,1223.9 1486.2,1227.6 C1487.1,1229.8 1488.1,1235.9 1489.0,1236.9 C1490.8,1238.8 1492.7,1237.8 1494.5,1239.7 C1496.1,1241.3 1497.6,1246.4 1499.2,1249.9 C1500.4,1252.6 1501.7,1258.3 1502.9,1258.3 C1504.8,1258.3 1506.6,1256.8 1508.5,1253.7 C1509.4,1252.2 1510.4,1240.2 1511.3,1235.1 C1512.7,1227.2 1514.2,1222.0 1515.6,1219.0 C1516.4,1217.4 1517.1,1216.3 1517.9,1216.3 C1519.3,1216.3 1520.7,1221.0 1522.1,1222.8 C1523.0,1224.0 1524.0,1225.8 1524.9,1226.0 C1526.8,1226.3 1528.6,1226.2 1530.5,1226.5 C1532.3,1226.8 1534.2,1228.4 1536.0,1232.1 C1537.2,1234.6 1538.5,1236.4 1539.7,1245.1 C1540.6,1251.7 1541.6,1265.4 1542.5,1273.0 C1543.4,1280.6 1544.4,1290.6 1545.3,1290.6 C1546.5,1290.6 1547.8,1284.7 1549.0,1273.0 C1549.6,1267.0 1550.3,1252.3 1550.9,1245.1 C1551.8,1234.6 1552.8,1227.4 1553.7,1227.4 C1554.9,1227.4 1556.2,1229.7 1557.4,1231.1 C1559.0,1232.9 1560.5,1237.6 1562.1,1237.6 C1563.3,1237.6 1564.6,1235.1 1565.8,1233.9 C1567.7,1232.1 1569.5,1228.8 1571.4,1228.8 C1573.9,1228.8 1576.3,1232.5 1578.8,1235.8 C1580.3,1237.9 1581.9,1242.2 1583.4,1243.2 C1585.3,1244.5 1587.1,1245.1 1589.0,1245.1 C1590.6,1245.1 1592.1,1239.8 1593.7,1238.6 C1594.3,1238.1 1594.9,1237.6 1595.5,1237.6 C1598.0,1237.6 1600.5,1238.2 1603.0,1239.5 C1604.5,1240.3 1606.1,1241.6 1607.6,1243.2 C1609.8,1245.5 1611.9,1247.2 1614.1,1252.5 C1615.3,1255.5 1616.6,1258.8 1617.8,1263.7 C1619.0,1268.7 1620.3,1275.3 1621.5,1282.2 C1622.8,1289.2 1624.0,1300.0 1625.3,1305.5 C1626.1,1308.8 1626.8,1312.9 1627.6,1312.9 C1628.7,1312.9 1629.7,1306.5 1630.8,1300.8 C1631.7,1295.8 1632.7,1287.2 1633.6,1282.2 C1634.8,1275.5 1636.1,1272.5 1637.3,1268.3 C1638.9,1263.0 1640.4,1257.8 1642.0,1254.4 C1643.2,1251.7 1644.5,1248.8 1645.7,1248.8 C1647.3,1248.8 1648.8,1251.7 1650.4,1253.4 C1652.0,1255.1 1653.5,1255.5 1655.1,1259.0 C1657.6,1264.7 1660.1,1279.7 1662.6,1288.8 C1665.7,1300.0 1668.8,1306.9 1671.9,1318.5 C1674.9,1329.6 1677.8,1340.2 1680.8,1356.2 C1682.9,1367.7 1685.1,1384.2 1687.2,1396.2 C1689.3,1408.2 1691.5,1420.5 1693.6,1428.2 C1695.7,1436.0 1697.9,1439.1 1700.0,1442.7 C1701.1,1444.5 1702.1,1447.2 1703.2,1447.2 C1705.3,1447.2 1707.5,1439.9 1709.6,1433.0 C1712.3,1424.2 1715.0,1411.0 1717.7,1396.2 C1719.8,1384.5 1722.0,1372.1 1724.1,1356.2 C1725.7,1344.3 1727.3,1326.2 1728.9,1316.1 C1730.5,1306.0 1732.1,1295.3 1733.7,1295.3 C1736.4,1295.3 1739.0,1306.5 1741.7,1306.5 C1744.4,1306.5 1747.0,1302.8 1749.7,1295.3 C1751.3,1290.8 1752.9,1277.2 1754.5,1268.1 C1756.1,1259.0 1757.7,1246.1 1759.3,1240.9 C1762.0,1232.3 1764.6,1230.1 1767.3,1228.0 C1770.0,1225.9 1772.6,1224.8 1775.3,1224.8 C1777.4,1224.8 1779.6,1227.5 1781.7,1232.9 C1783.8,1238.2 1786.0,1251.3 1788.1,1256.9 C1790.2,1262.5 1792.4,1266.5 1794.5,1266.5 C1797.2,1266.5 1799.8,1266.0 1802.5,1264.9 C1803.6,1264.4 1804.8,1245.7 1805.9,1238.7 C1807.1,1231.4 1808.2,1223.5 1809.4,1222.3 C1811.0,1220.7 1812.5,1219.9 1814.1,1219.9 C1816.1,1219.9 1818.0,1223.9 1820.0,1227.0 C1822.3,1230.7 1824.7,1241.1 1827.0,1241.1 C1829.0,1241.1 1830.9,1237.9 1832.9,1236.4 C1834.5,1235.2 1836.0,1232.8 1837.6,1232.8 C1839.9,1232.8 1842.3,1235.2 1844.6,1235.2 C1847.0,1235.2 1849.3,1235.2 1851.7,1235.2 C1854.0,1235.2 1856.4,1229.6 1858.7,1227.0 C1861.4,1224.0 1864.2,1218.7 1866.9,1218.7 C1868.9,1218.7 1870.8,1221.1 1872.8,1224.6 C1874.8,1228.1 1876.7,1239.9 1878.7,1239.9 C1880.6,1239.9 1882.6,1233.5 1884.5,1229.3 C1886.1,1225.9 1887.6,1219.7 1889.2,1217.6 C1891.6,1214.5 1893.9,1214.4 1896.3,1212.9 C1898.6,1211.4 1901.0,1208.8 1903.3,1208.8 C1905.7,1208.8 1908.0,1209.9 1910.4,1209.9 C1912.7,1209.9 1915.1,1208.8 1917.4,1208.8 C1919.8,1208.8 1922.1,1210.5 1924.5,1211.7 C1928.4,1213.7 1932.3,1219.9 1936.2,1219.9 C1939.7,1219.9 1943.3,1219.1 1946.8,1218.7 C1951.1,1218.3 1955.4,1217.6 1959.7,1217.6 C1963.6,1217.6 1967.5,1218.0 1971.4,1218.7 C1974.5,1219.3 1977.7,1224.3 1980.8,1225.8 C1983.9,1227.3 1987.1,1227.5 1990.2,1228.1 C1993.3,1228.7 1996.5,1228.8 1999.6,1229.3 C2003.5,1229.9 2007.4,1231.0 2011.3,1231.7 C2015.2,1232.4 2019.2,1233.4 2023.1,1233.4 C2024.7,1233.4 2026.4,1233.1 2028.0,1232.8" fill="none" stroke="#FF406C" stroke-width="10.2" stroke-linejoin="round" stroke-linecap="butt"/>
<line x1="1349" y1="127.9" x2="1349" y2="1352.6" stroke="#000" stroke-width="4" stroke-dasharray="22 21"/>
<line x1="1459" y1="127.9" x2="1459" y2="1352.6" stroke="#000" stroke-width="4" stroke-dasharray="22 21"/>
<line x1="1702.9" y1="111.7" x2="1702.9" y2="1508.8" stroke="#000" stroke-width="4" stroke-dasharray="22 21"/>
<line x1="1802" y1="127.7" x2="1802" y2="1352.2" stroke="#000" stroke-width="4" stroke-dasharray="22 21"/>
<line x1="427.0" y1="309.4" x2="397.1" y2="257.1" stroke="#000" stroke-width="1.6"/><polygon points="375.3,218.9 410.3,251.9 386.0,265.8" fill="#000"/>
<line x1="958.9" y1="863.7" x2="1019.1" y2="882.9" stroke="#000" stroke-width="1.6"/><polygon points="1061.0,896.3 1012.9,895.6 1021.4,869.0" fill="#000"/>
<line x1="953.4" y1="1039.0" x2="1004.8" y2="1028.2" stroke="#000" stroke-width="1.6"/><polygon points="1047.9,1019.2 1005.7,1042.3 1000.0,1014.9" fill="#000"/>
<line x1="530.3" y1="1039.7" x2="500.3" y2="988.0" stroke="#000" stroke-width="1.6"/><polygon points="478.3,949.9 513.5,982.7 489.2,996.7" fill="#000"/>
<line x1="532.9" y1="1303.6" x2="503.3" y2="1251.5" stroke="#000" stroke-width="1.6"/><polygon points="481.5,1213.3 516.4,1246.4 492.1,1260.2" fill="#000"/>
<line x1="1242.2" y1="1376.3" x2="1294.5" y2="1365.6" stroke="#000" stroke-width="1.6"/><polygon points="1337.6,1356.8 1295.3,1379.7 1289.7,1352.3" fill="#000"/>
<line x1="1523.1" y1="1432.1" x2="1487.6" y2="1388.1" stroke="#000" stroke-width="1.6"/><polygon points="1460.0,1353.8 1499.8,1380.8 1478.0,1398.4" fill="#000"/>
<line x1="1797.1" y1="1520.7" x2="1740.6" y2="1487.8" stroke="#000" stroke-width="1.6"/><polygon points="1702.6,1465.6 1749.4,1476.7 1735.3,1500.9" fill="#000"/>
<line x1="1899.8" y1="1402.4" x2="1842.6" y2="1368.2" stroke="#000" stroke-width="1.6"/><polygon points="1804.8,1345.6 1851.5,1357.2 1837.1,1381.2" fill="#000"/>
<text transform="translate(159.1,165.6) scale(1,1.023)" font-size="83.74" text-anchor="start">DL-220</text>
<text transform="translate(168.1,499.0) scale(1,1.004)" font-size="83.77" text-anchor="start">TDI</text>
<text transform="translate(162.0,908.2) scale(1,1.0)" font-size="84.52" text-anchor="start">ITPU</text>
<text transform="translate(166.5,1166.0) scale(1,0.987)" font-size="84.55" text-anchor="start">EPU</text>
<text transform="translate(353.3,369.8) scale(1,1.03)" font-size="67.95" text-anchor="start">3486</text>
<text transform="translate(817.6,872.8) scale(1,1.002)" font-size="68.39" text-anchor="start">2236</text>
<text transform="translate(807.6,1062.1) scale(1,1.027)" font-size="66.68" text-anchor="start">2271</text>
<text transform="translate(467.3,1104.6) scale(1,0.994)" font-size="68.13" text-anchor="start">3300</text>
<text transform="translate(482.6,1369.3) scale(1,0.992)" font-size="68.07" text-anchor="start">3300</text>
<text transform="translate(1082.4,1411.1) scale(1,1.006)" font-size="67.2" text-anchor="start">1729</text>
<text transform="translate(1469.2,1504.6) scale(1,1.03)" font-size="66.6" text-anchor="start">1530</text>
<text transform="translate(1803.3,1542.6) scale(1,0.999)" font-size="67.36" text-anchor="start">1089</text>
<text transform="translate(1903.0,1419.2) scale(1,0.989)" font-size="68.01" text-anchor="start">910</text>
</svg></body></html>
